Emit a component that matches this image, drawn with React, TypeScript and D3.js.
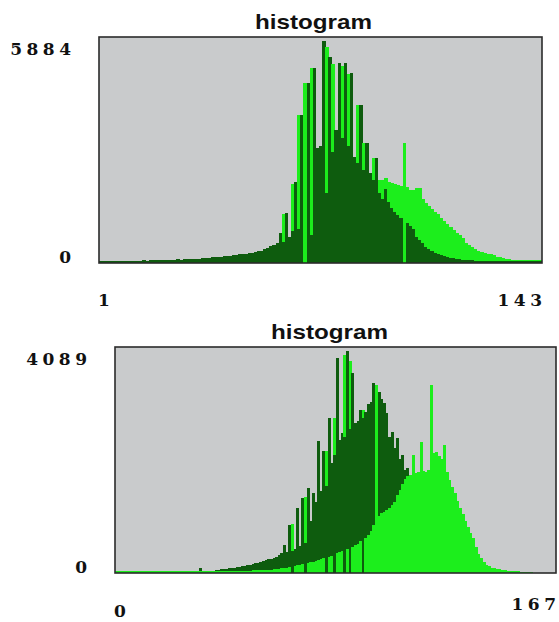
import React from "react";
import * as d3 from "d3";

const width = 559;
const height = 622;

// top histogram: bins 1..143
const topBins = [1, 143];
const topMax = 5884;
const topDark = [
  40, 55, 50, 45, 55, 50, 60, 50, 55, 60,
  55, 60, 65, 60, 70, 65, 70, 75, 70, 80,
  75, 80, 85, 80, 90, 95, 90, 100, 95, 110,
  105, 115, 110, 125, 140, 130, 150, 165, 150, 170,
  180, 175, 195, 210, 200, 225, 240, 230, 260, 275,
  290, 310, 330, 360, 400, 440, 480, 520, 792, 560,
  1320, 700, 850, 2138, 900, 3906, 0, 4750, 740, 5146,
  3035, 3100, 5884, 1847, 5436, 2930, 3510, 5278, 3300, 5278,
  3100, 5014, 2800, 2650, 4170, 2450, 3167, 2380, 2200, 2771,
  1850, 1700, 1950, 1600, 1450, 1350, 1280, 1200, 0, 1050,
  980, 900, 690, 600, 520, 420, 370, 320, 270, 230,
  200, 180, 160, 140, 120, 110, 100, 90, 80, 75,
  70, 65, 60, 55, 55, 50, 50, 50, 45, 45,
  45, 40, 40, 40, 40, 40, 40, 40, 40, 40,
  40, 40, 40,
];
const topLight = [
  0, 0, 0, 0, 0, 0, 0, 0, 0, 0,
  0, 0, 0, 0, 0, 0, 0, 0, 0, 0,
  0, 0, 0, 0, 0, 0, 0, 0, 0, 0,
  0, 0, 0, 0, 0, 0, 0, 0, 0, 0,
  0, 0, 0, 0, 0, 0, 0, 0, 0, 0,
  0, 0, 0, 0, 0, 0, 0, 0, 0, 1300,
  0, 0, 2100, 0, 3906, 0, 4750, 0, 5146, 0,
  0, 0, 0, 5700, 0, 5250, 0, 0, 5200, 0,
  5000, 0, 0, 4170, 0, 3167, 0, 0, 2771, 0,
  2190, 2190, 2243, 2140, 2110, 2080, 2058, 2040, 3167, 2000,
  1926, 1930, 1980, 1990, 1700, 1583, 1500, 1420, 1340, 1290,
  1200, 1120, 1030, 960, 880, 790, 730, 660, 530, 480,
  420, 370, 330, 300, 270, 250, 230, 200, 170, 150,
  130, 110, 100, 90, 85, 80, 85, 80, 80, 75,
  80, 75, 70,
];

// bottom histogram: bins 0..167
const bottomBins = [0, 167];
const bottomMax = 4089;
const bottomDark = [
  0, 0, 0, 0, 0, 0, 0, 0, 0, 0,
  0, 0, 0, 0, 0, 0, 0, 0, 0, 0,
  0, 0, 0, 0, 0, 0, 0, 0, 0, 0,
  0, 0, 90, 0, 0, 0, 0, 45, 55, 60,
  65, 75, 80, 95, 90, 100, 110, 115, 125, 135,
  140, 150, 160, 175, 190, 200, 215, 235, 250, 265,
  280, 300, 330, 360, 516, 390, 884, 400, 450, 1197,
  500, 1382, 560, 1566, 950, 1474, 1300, 2430, 1500, 2250,
  1600, 2855, 2026, 2174, 3960, 2450, 2579, 2500, 4089, 2650,
  3684, 2760, 2800, 3002, 2850, 2950, 3100, 3150, 3500, 0,
  3334, 3200, 3131, 2947, 2500, 2600, 2300, 2487, 2100, 2174,
  1900, 1934, 0, 0, 0, 0, 0, 0, 0, 0,
  0, 0, 0, 0, 0, 0, 0, 0, 0, 0,
  0, 0, 0, 0, 0, 0, 0, 0, 0, 0,
  0, 0, 0, 0, 0, 0, 0, 0, 0, 0,
  0, 0, 0, 0, 0, 0, 0, 0, 0, 0,
  0, 0, 0, 0, 0, 0, 0, 0,
];
const bottomLight = [
  40, 38, 36, 38, 35, 37, 36, 38, 35, 36,
  37, 35, 36, 38, 36, 35, 37, 36, 38, 35,
  36, 37, 35, 38, 36, 37, 35, 36, 38, 37,
  36, 35, 37, 36, 38, 36, 37, 35, 36, 38,
  37, 38, 36, 39, 40, 38, 41, 40, 42, 43,
  44, 45, 46, 48, 50, 52, 55, 58, 60, 64,
  68, 72, 78, 85, 92, 100, 110, 900, 130, 140,
  150, 160, 1400, 180, 195, 210, 225, 240, 255, 270,
  2250, 300, 320, 2855, 360, 380, 400, 4000, 440, 3900,
  480, 510, 540, 580, 3000, 650, 700, 780, 880, 3463,
  1050, 1100, 1120, 1150, 1200, 1250, 1310, 1440, 1530, 1640,
  1720, 1780, 1805, 2174, 1842, 1850, 2413, 1870, 1860, 1900,
  3463, 2200, 2229, 2150, 2100, 2358, 1850, 1700, 1580, 1470,
  1320, 1200, 1080, 960, 850, 730, 640, 480, 350, 280,
  200, 150, 120, 100, 85, 75, 65, 55, 50, 45,
  40, 38, 35, 30, 25, 20, 15, 12, 10, 8,
  6, 5, 4, 3, 2, 2, 1, 0,
];

const DARK = "#0e5c0e";
const LIGHT = "#1cee1c";
const PANEL = "#c9cbcc";
const BORDER = "#2b2b2b";
const NUM_FONT = "'DejaVu Serif', 'Liberation Serif', serif";
const TITLE_FONT = "'Liberation Sans', Arial, sans-serif";
const SPACING = 4.5;

type HistProps = {
  dark: number[];
  light: number[];
  bins: number[];
  max: number;
  box: { left: number; top: number; right: number; bottom: number };
  labelY: [number, number];
};

const Histogram = ({ dark, light, bins, max, box, labelY }: HistProps) => {
  const idx = d3.range(bins[0], bins[1] + 1);
  const x = d3.scaleBand<number>().domain(idx).range([box.left, box.right]).padding(0);
  const y = d3.scaleLinear().domain([0, max]).range([box.bottom, box.top + 3.5]);
  const bw = x.bandwidth();

  return (
    <g>
      <rect
        x={box.left}
        y={box.top}
        width={box.right - box.left}
        height={box.bottom - box.top}
        fill={PANEL}
      />
      <g shapeRendering="crispEdges">
        {idx.map((b, i) => {
          // taller bar behind, shorter bar in front
          const pair = [
            { v: dark[i], c: DARK },
            { v: light[i], c: LIGHT },
          ].sort((a, b) => b.v - a.v);
          return (
            <g key={b}>
              {pair.map((p, k) =>
                p.v > 0 ? (
                  <rect
                    key={k}
                    x={x(b)}
                    y={y(p.v)}
                    width={bw + 0.4}
                    height={box.bottom - y(p.v)}
                    fill={p.c}
                  />
                ) : null
              )}
            </g>
          );
        })}
      </g>
      <rect
        x={box.left}
        y={box.top}
        width={box.right - box.left}
        height={box.bottom - box.top}
        fill="none"
        stroke={BORDER}
        strokeWidth={1.6}
      />
      <text
        x={box.left + 214.5}
        y={box.top - 8}
        textAnchor="middle"
        fontFamily={TITLE_FONT}
        fontWeight="bold"
        fontSize={21}
        textLength={117}
        lengthAdjust="spacingAndGlyphs"
        fill="#111"
      >
        histogram
      </text>
      {/* axis end labels */}
      <g fontFamily={NUM_FONT} fontWeight="bold" fontSize={17} fill="#111" style={{ letterSpacing: SPACING }}>
        <text x={box.left - 28 + SPACING} y={y(max) + 14} textAnchor="end">
          {max}
        </text>
        <text x={box.left - 28 + SPACING} y={y(0)} textAnchor="end">
          0
        </text>
        <text x={box.left - 1} y={labelY[0]} textAnchor="start">
          {bins[0]}
        </text>
        <text x={box.right + SPACING} y={labelY[1]} textAnchor="end">
          {bins[1]}
        </text>
      </g>
    </g>
  );
};

export default function App() {
  return (
    <svg
      width={width}
      height={height}
      style={{ position: "absolute", left: 0, top: 0, background: "#fff" }}
    >
      <Histogram
        dark={topDark}
        light={topLight}
        bins={topBins}
        max={topMax}
        box={{ left: 99, top: 37, right: 542, bottom: 263 }}
        labelY={[306, 306]}
      />
      <Histogram
        dark={bottomDark}
        light={bottomLight}
        bins={bottomBins}
        max={bottomMax}
        box={{ left: 115, top: 347, right: 556, bottom: 573 }}
        labelY={[617, 610]}
      />
    </svg>
  );
}
